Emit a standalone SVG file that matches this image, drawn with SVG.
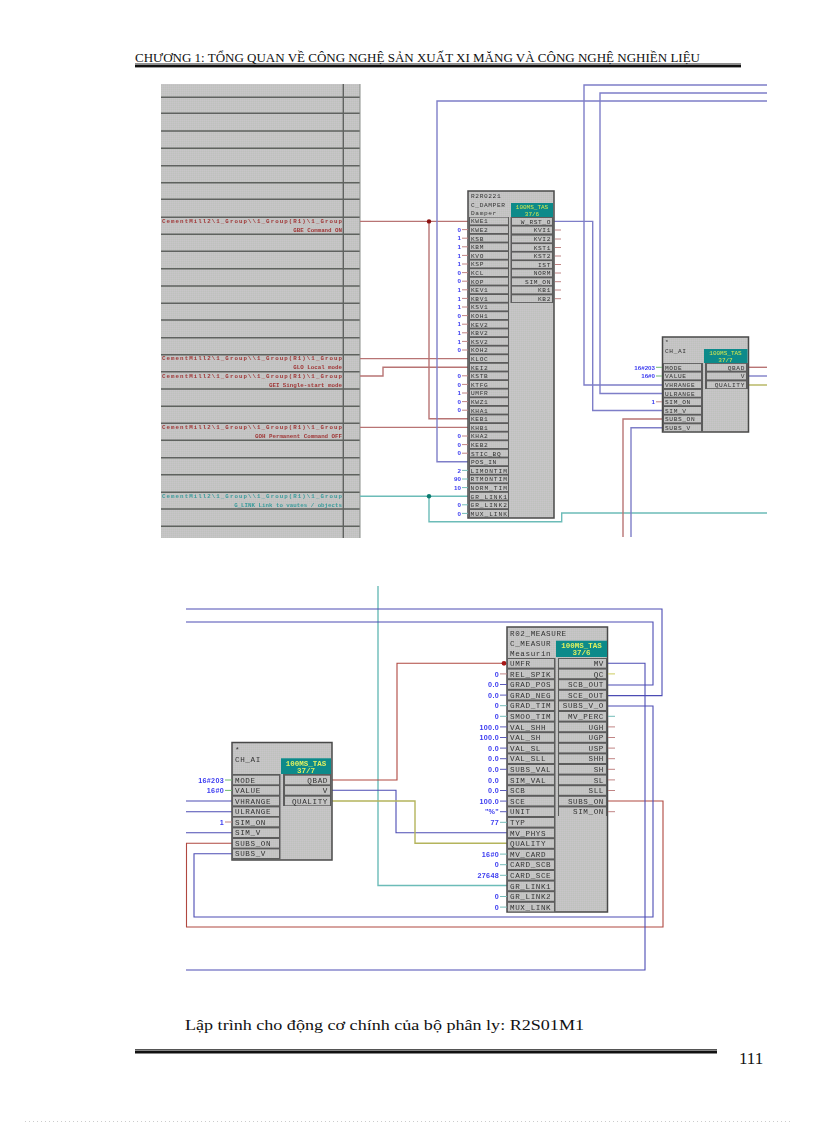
<svg xmlns="http://www.w3.org/2000/svg" width="816" height="1123" viewBox="0 0 816 1123">
<style>
.pg{fill:url(#dith)}
.fr{stroke:#4a4a4a;stroke-width:1.5}
.col{fill:#5c5c5c}
.tl{fill:#0b8a8a}
.soft{filter:url(#soft)}
.tt{font:6px "Liberation Mono",monospace;fill:#d8e850;text-anchor:middle}
.tb{font:7.5px "Liberation Mono",monospace;fill:#e0f060;text-anchor:middle;font-weight:bold}
.a{font:6.2px "Liberation Mono",monospace;fill:#333;letter-spacing:.6px}
.ae{text-anchor:end}
.b{font:7.6px "Liberation Mono",monospace;fill:#333;letter-spacing:.6px}
.va{font:6.2px "Liberation Sans",sans-serif;fill:#3c3cf0;text-anchor:end;font-weight:bold}
.vb{font:7.2px "Liberation Sans",sans-serif;fill:#3c3cf0;text-anchor:end;font-weight:bold;letter-spacing:.3px}
.cr{font:5.8px "Liberation Mono",monospace;fill:#a03838;text-anchor:end;font-weight:bold}
.ct{font:5.8px "Liberation Mono",monospace;fill:#3c9c9c;text-anchor:end;font-weight:bold}
.w{fill:none;stroke-width:1.4}
.wb{stroke:#7e7ec8}.wn{stroke:#4c4cb4;stroke-width:1.1}
.wr{stroke:#b87474}.wd{stroke:#b04840;stroke-width:1.1}
.wt{stroke:#6cbcb8}.wo{stroke:#b4b45c}.wg{stroke:#70b870}
.sp{fill:none;stroke:#c08484;stroke-width:1}
.sb{fill:none;stroke:#5c5cb8;stroke-width:1}
.st{fill:none;stroke:#74bcb8;stroke-width:1}
.sg{fill:none;stroke:#70b870;stroke-width:1}
.sy{fill:none;stroke:#cccc60;stroke-width:1}
.ln{stroke:#5e625e;stroke-width:1.4}
.hd{font-family:"Liberation Serif",serif;fill:#111}
</style>
<defs>
<filter id="soft" x="-5%" y="-5%" width="110%" height="110%"><feGaussianBlur stdDeviation="0.35"/></filter>
<pattern id="dith" width="2" height="2" patternUnits="userSpaceOnUse">
<rect width="2" height="2" fill="#c4c3c4"/><rect width="1" height="1" fill="#c8c6c8"/><rect x="1" y="1" width="1" height="1" fill="#bec2bc"/>
</pattern>
<rect id="p1l" x="470" y="-3.4" width="38" height="6.8" fill="url(#dith)"/>
<rect id="p1r" x="512" y="-3.4" width="40" height="6.8" fill="url(#dith)"/>
<rect id="p2l" x="664" y="-3.4" width="37" height="6.8" fill="url(#dith)"/>
<rect id="p2r" x="707" y="-3.4" width="39" height="6.8" fill="url(#dith)"/>
<rect id="p3l" x="233" y="-4.3" width="46" height="8.6" fill="url(#dith)"/>
<rect id="p3r" x="285" y="-4.3" width="45" height="8.6" fill="url(#dith)"/>
<rect id="p4l" x="508" y="-4.3" width="46" height="8.6" fill="url(#dith)"/>
<rect id="p4r" x="559" y="-4.3" width="47" height="8.6" fill="url(#dith)"/>
</defs>
<rect width="816" height="1123" fill="#fff"/>

<g id="page-header">
<text class="hd" x="135" y="62" font-size="12" textLength="565" lengthAdjust="spacingAndGlyphs">CHƯƠNG 1: TỔNG QUAN VỀ CÔNG NGHỆ SẢN XUẤT XI MĂNG VÀ CÔNG NGHỆ NGHIỀN LIỆU</text>
<rect x="135" y="63.5" width="606" height="1" fill="#222"/>
<rect x="135" y="65" width="606" height="2.4" fill="#111"/>
</g>

<g id="symbol-table" class="soft">
<rect class="pg" x="161" y="84" width="199" height="454"/>
<path class="ln" d="M161 97.3H360M161 113.3H360M161 131H360M161 148.3H360M161 165.7H360M161 182.7H360M161 199.3H360M161 217.3H360M161 234.3H360M161 251.3H360M161 268.7H360M161 286H360M161 303.3H360M161 320H360M161 337.7H360M161 354.7H360M161 371.7H360M161 389H360M161 406.3H360M161 423.3H360M161 440.3H360M161 457.7H360M161 474.7H360M161 492.3H360M161 509H360M161 526.3H360M343.3 84V538"/>
<path d="M360 84V538" stroke="#8a8e8a" stroke-width="1" fill="none"/>
<text class="cr" x="342" y="223" textLength="180">CementMill2\1_Group\\1_Group(R1)\1_Group</text>
<text class="cr" x="342" y="231.5">GBE Command ON</text>
<text class="cr" x="342" y="360" textLength="180">CementMill2\1_Group\\1_Group(R1)\1_Group</text>
<text class="cr" x="342" y="368.5">GLO Local mode</text>
<text class="cr" x="342" y="377.5" textLength="180">CementMill2\1_Group\\1_Group(R1)\1_Group</text>
<text class="cr" x="342" y="386.5">GEI Single-start mode</text>
<text class="cr" x="342" y="429" textLength="180">CementMill2\1_Group\\1_Group(R1)\1_Group</text>
<text class="cr" x="342" y="437.5">GOH Permanent Command OFF</text>
<text class="ct" x="342" y="498" textLength="180">CementMill2\1_Group\\1_Group(R1)\1_Group</text>
<text class="ct" x="342" y="506.5">G_LINK Link to vautes / objects</text>
</g>

<g id="connectors">
<path class="w wr" d="M360 221.4H468M429 221.4V418.8H468M360 358.6H468M360 376H383V367.2H468M360 427.4H468"/>
<path class="w wb" d="M767 101H437V461.8H468M767 85H584V385H662M767 93H600V393.5H662M510 221.4H592.7V410.5H662"/>
<path class="w wt" d="M360 496.2H468M429 496.2V521.7H561.7V513H767"/>
<path class="w wr" d="M767 367.3H749"/>
<path class="w wb" d="M767 376H749"/>
<path class="w wo" d="M767 385H749"/>
<path class="w wr" d="M662 419H623V537"/>
<path class="w wb" d="M662 427.7H631V537"/>
<path class="w wt" d="M378 586V885.5H507"/>
<path class="w wn" d="M186 609H662V695.6H607M186 622H653V685H607M186 801H232M186 811.7H232M186 832.7H232"/>
<path class="w wn" d="M332 790.3H396V832.7H507"/>
<path class="w wo" d="M332 801H415V843.3H507"/>
<path class="w wd" d="M332 780H397V663.3H505"/>
<path class="w wd" d="M232 843.3H186.5V927H663V801H607"/>
<path class="w wn" d="M232 853.7H194V917H653V706H607"/>
<path class="w wn" d="M186 970H645V663.3H607"/>
<circle cx="429" cy="221.4" r="2.2" fill="#8c1010"/>
<circle cx="429" cy="496.2" r="2.2" fill="#0c7c70"/>
<circle cx="504" cy="663.3" r="2.4" fill="#a81818"/>
</g>

<g id="R2R0221" class="soft">
<rect class="pg fr" x="468" y="191" width="86" height="327"/>
<rect class="col" x="469" y="217" width="40" height="300.5"/>
<rect class="col" x="510.5" y="217" width="43" height="86"/>
<rect class="tl" x="511" y="203" width="42" height="14"/>
<text class="tt" x="532" y="209">100MS_TAS</text><text class="tt" x="532" y="215.5">37/6</text>
<text class="a" x="471" y="198">R2R0221</text><text class="a" x="471" y="206.5">C_DAMPER</text><text class="a" x="471" y="215">Damper</text>
<use href="#p1l" y="221"/><use href="#p1l" y="229.6"/><use href="#p1l" y="238.2"/><use href="#p1l" y="246.8"/><use href="#p1l" y="255.4"/><use href="#p1l" y="264"/><use href="#p1l" y="272.6"/><use href="#p1l" y="281.2"/><use href="#p1l" y="289.8"/><use href="#p1l" y="298.4"/><use href="#p1l" y="307"/><use href="#p1l" y="315.6"/><use href="#p1l" y="324.2"/><use href="#p1l" y="332.8"/><use href="#p1l" y="341.4"/><use href="#p1l" y="350"/><use href="#p1l" y="358.6"/><use href="#p1l" y="367.2"/><use href="#p1l" y="375.8"/><use href="#p1l" y="384.4"/><use href="#p1l" y="393"/><use href="#p1l" y="401.6"/><use href="#p1l" y="410.2"/><use href="#p1l" y="418.8"/><use href="#p1l" y="427.4"/><use href="#p1l" y="436"/><use href="#p1l" y="444.6"/><use href="#p1l" y="453.2"/><use href="#p1l" y="461.8"/><use href="#p1l" y="470.4"/><use href="#p1l" y="479"/><use href="#p1l" y="487.6"/><use href="#p1l" y="496.2"/><use href="#p1l" y="504.8"/><use href="#p1l" y="513.4"/>
<use href="#p1r" y="221.4"/><use href="#p1r" y="230"/><use href="#p1r" y="239"/><use href="#p1r" y="247.5"/><use href="#p1r" y="256"/><use href="#p1r" y="264.5"/><use href="#p1r" y="273"/><use href="#p1r" y="281.7"/><use href="#p1r" y="290"/><use href="#p1r" y="298.7"/>
<text class="a" x="471" y="223.3">KWE1</text><text class="a" x="471" y="231.9">KWE2</text><text class="a" x="471" y="240.5">KSB</text><text class="a" x="471" y="249.1">KBM</text><text class="a" x="471" y="257.7">KVO</text><text class="a" x="471" y="266.3">KSP</text><text class="a" x="471" y="274.9">KCL</text><text class="a" x="471" y="283.5">KOP</text><text class="a" x="471" y="292.1">KEV1</text><text class="a" x="471" y="300.7">KBV1</text><text class="a" x="471" y="309.3">KSV1</text><text class="a" x="471" y="317.9">KOH1</text><text class="a" x="471" y="326.5">KEV2</text><text class="a" x="471" y="335.1">KBV2</text><text class="a" x="471" y="343.7">KSV2</text><text class="a" x="471" y="352.3">KOH2</text><text class="a" x="471" y="360.9">KLOC</text><text class="a" x="471" y="369.5">KEI2</text><text class="a" x="471" y="378.1">KSTB</text><text class="a" x="471" y="386.7">KTFG</text><text class="a" x="471" y="395.3">UMFR</text><text class="a" x="471" y="403.9">KWZ1</text><text class="a" x="471" y="412.5">KHA1</text><text class="a" x="471" y="421.1">KEB1</text><text class="a" x="471" y="429.7">KHB1</text><text class="a" x="471" y="438.3">KHA2</text><text class="a" x="471" y="446.9">KEB2</text><text class="a" x="471" y="455.5">STIC_BQ</text><text class="a" x="471" y="464.1">POS_IN</text><text class="a" x="470.5" y="472.7" textLength="37">LIMONTIM</text><text class="a" x="470.5" y="481.3" textLength="37">RTMONTIM</text><text class="a" x="470.5" y="489.9" textLength="37">NORM_TIM</text><text class="a" x="470.5" y="498.5" textLength="37">GR_LINK1</text><text class="a" x="470.5" y="507.1" textLength="37">GR_LINK2</text><text class="a" x="470.5" y="515.7" textLength="37">MUX_LINK</text>
<text class="a ae" x="551" y="223.7">W_RST_O</text><text class="a ae" x="551" y="232.3">KVI1</text><text class="a ae" x="551" y="241.3">KVI2</text><text class="a ae" x="551" y="249.8">KST1</text><text class="a ae" x="551" y="258.3">KST2</text><text class="a ae" x="551" y="266.8">IST</text><text class="a ae" x="551" y="275.3">NORM</text><text class="a ae" x="551" y="284">SIM_ON</text><text class="a ae" x="551" y="292.3">KB1</text><text class="a ae" x="551" y="301">KB2</text>
<text class="va" x="461" y="231.8">0</text><text class="va" x="461" y="240.4">1</text><text class="va" x="461" y="249">1</text><text class="va" x="461" y="257.6">1</text><text class="va" x="461" y="266.2">1</text><text class="va" x="461" y="274.8">0</text><text class="va" x="461" y="283.4">0</text><text class="va" x="461" y="292">1</text><text class="va" x="461" y="300.6">1</text><text class="va" x="461" y="309.2">1</text><text class="va" x="461" y="317.8">0</text><text class="va" x="461" y="326.4">1</text><text class="va" x="461" y="335">1</text><text class="va" x="461" y="343.6">1</text><text class="va" x="461" y="352.2">0</text><text class="va" x="461" y="378">0</text><text class="va" x="461" y="386.6">0</text><text class="va" x="461" y="395.2">1</text><text class="va" x="461" y="403.8">0</text><text class="va" x="461" y="412.4">0</text><text class="va" x="461" y="438.2">0</text><text class="va" x="461" y="446.8">0</text><text class="va" x="461" y="455.4">0</text><text class="va" x="461" y="472.6">2</text><text class="va" x="461" y="481.2">90</text><text class="va" x="461" y="489.8">10</text><text class="va" x="461" y="507">0</text><text class="va" x="461" y="515.6">0</text>
<path class="sp" d="M462 229.6h6M462 238.2h6M462 246.8h6M462 255.4h6M462 264h6M462 272.6h6M462 281.2h6M462 289.8h6M462 298.4h6M462 307h6M462 315.6h6M462 324.2h6M462 332.8h6M462 341.4h6M462 350h6M462 375.8h6M462 384.4h6M462 393h6M462 401.6h6M462 410.2h6M462 436h6M462 444.6h6M462 453.2h6M555 230h6M555 239h6M555 247.5h6M555 256h6M555 264.5h6M555 273h6M555 281.7h6M555 290h6M555 298.7h6"/>
<path class="st" d="M462 470.4h6M462 479h6M462 487.6h6M462 504.8h6M462 513.4h6"/>
</g>

<g id="CH_AI_1" class="soft">
<rect class="pg fr" x="662.5" y="337" width="86" height="95"/>
<rect class="col" x="663" y="363" width="40" height="68.5"/>
<rect class="col" x="705" y="363" width="43" height="26"/>
<rect class="tl" x="704" y="349" width="43.5" height="14"/>
<text class="tt" x="725.5" y="355">100MS_TAS</text><text class="tt" x="725.5" y="361.5">37/7</text>
<text class="a" x="665" y="344">*</text><text class="a" x="665" y="353">CH_AI</text>
<use href="#p2l" y="367.3"/><use href="#p2l" y="376"/><use href="#p2l" y="384.6"/><use href="#p2l" y="393.3"/><use href="#p2l" y="401.8"/><use href="#p2l" y="410.4"/><use href="#p2l" y="419"/><use href="#p2l" y="427.7"/>
<use href="#p2r" y="367.3"/><use href="#p2r" y="376"/><use href="#p2r" y="384.8"/>
<text class="a" x="665" y="369.6">MODE</text><text class="a" x="665" y="378.3">VALUE</text><text class="a" x="665" y="386.9">VHRANGE</text><text class="a" x="665" y="395.6">ULRANGE</text><text class="a" x="665" y="404.1">SIM_ON</text><text class="a" x="665" y="412.7">SIM_V</text><text class="a" x="665" y="421.3">SUBS_ON</text><text class="a" x="665" y="430">SUBS_V</text>
<text class="a ae" x="745" y="369.6">QBAD</text><text class="a ae" x="745" y="378.3">V</text><text class="a ae" x="745" y="387.1">QUALITY</text>
<text class="va" x="655" y="369.6">16#203</text><text class="va" x="655" y="378.3">16#0</text><text class="va" x="655" y="404.1">1</text>
<path class="sg" d="M656 367.3h6M656 376h6"/><path class="sp" d="M656 401.8h6"/>
</g>

<g id="CH_AI_2" class="soft">
<rect class="pg fr" x="232" y="742.5" width="100" height="117.5"/>
<rect class="col" x="232.5" y="774" width="48" height="85.5"/>
<rect class="col" x="283" y="774" width="48" height="32"/>
<rect class="tl" x="281" y="758.3" width="50" height="15.7"/>
<text class="tb" x="306" y="765.5">100MS_TAS</text><text class="tb" x="306" y="772.5">37/7</text>
<text class="b" x="235" y="752">*</text><text class="b" x="235" y="762">CH_AI</text>
<use href="#p3l" y="780"/><use href="#p3l" y="790.4"/><use href="#p3l" y="801"/><use href="#p3l" y="811.7"/><use href="#p3l" y="822"/><use href="#p3l" y="832.7"/><use href="#p3l" y="843.3"/><use href="#p3l" y="853.7"/>
<use href="#p3r" y="780"/><use href="#p3r" y="790.4"/><use href="#p3r" y="801"/>
<text class="b" x="235" y="782.7">MODE</text><text class="b" x="235" y="793.1">VALUE</text><text class="b" x="235" y="803.7">VHRANGE</text><text class="b" x="235" y="814.4">ULRANGE</text><text class="b" x="235" y="824.7">SIM_ON</text><text class="b" x="235" y="835.4">SIM_V</text><text class="b" x="235" y="846">SUBS_ON</text><text class="b" x="235" y="856.4">SUBS_V</text>
<text class="b ae" x="328" y="782.7">QBAD</text><text class="b ae" x="328" y="793.1">V</text><text class="b ae" x="328" y="803.7">QUALITY</text>
<text class="vb" x="224" y="782.7">16#203</text><text class="vb" x="224" y="793.1">16#0</text><text class="vb" x="224" y="824.7">1</text>
<path class="sg" d="M225 780h7M225 790.4h7"/><path class="sp" d="M225 822h7"/>
</g>

<g id="R02_MEASURE" class="soft">
<rect class="pg fr" x="507" y="627" width="100.5" height="285"/>
<rect class="col" x="507.5" y="658" width="48" height="253.5"/>
<rect class="col" x="558" y="658" width="49" height="158"/>
<rect class="tl" x="556" y="640.7" width="51" height="16.3"/>
<text class="tb" x="581.5" y="648">100MS_TAS</text><text class="tb" x="581.5" y="655">37/6</text>
<text class="b" x="510" y="636">R02_MEASURE</text><text class="b" x="510" y="645.5">C_MEASUR</text><text class="b" x="510" y="655.5">Measurin</text>
<use href="#p4l" y="663.3"/><use href="#p4l" y="673.9"/><use href="#p4l" y="684.5"/><use href="#p4l" y="695.1"/><use href="#p4l" y="705.7"/><use href="#p4l" y="716.3"/><use href="#p4l" y="726.9"/><use href="#p4l" y="737.5"/><use href="#p4l" y="748.1"/><use href="#p4l" y="758.7"/><use href="#p4l" y="769.3"/><use href="#p4l" y="779.9"/><use href="#p4l" y="790.5"/><use href="#p4l" y="801.1"/><use href="#p4l" y="811.7"/><use href="#p4l" y="822.3"/><use href="#p4l" y="832.9"/><use href="#p4l" y="843.5"/><use href="#p4l" y="854.1"/><use href="#p4l" y="864.7"/><use href="#p4l" y="875.3"/><use href="#p4l" y="885.9"/><use href="#p4l" y="896.5"/><use href="#p4l" y="907.1"/>
<use href="#p4r" y="663.3"/><use href="#p4r" y="673.9"/><use href="#p4r" y="684.5"/><use href="#p4r" y="695.1"/><use href="#p4r" y="705.7"/><use href="#p4r" y="716.3"/><use href="#p4r" y="726.9"/><use href="#p4r" y="737.5"/><use href="#p4r" y="748.1"/><use href="#p4r" y="758.7"/><use href="#p4r" y="769.3"/><use href="#p4r" y="779.9"/><use href="#p4r" y="790.5"/><use href="#p4r" y="801.1"/><use href="#p4r" y="811.7"/>
<text class="b" x="510" y="666">UMFR</text><text class="b" x="510" y="676.6">REL_SPIK</text><text class="b" x="510" y="687.2">GRAD_POS</text><text class="b" x="510" y="697.8">GRAD_NEG</text><text class="b" x="510" y="708.4">GRAD_TIM</text><text class="b" x="510" y="719">SMOO_TIM</text><text class="b" x="510" y="729.6">VAL_SHH</text><text class="b" x="510" y="740.2">VAL_SH</text><text class="b" x="510" y="750.8">VAL_SL</text><text class="b" x="510" y="761.4">VAL_SLL</text><text class="b" x="510" y="772">SUBS_VAL</text><text class="b" x="510" y="782.6">SIM_VAL</text><text class="b" x="510" y="793.2">SCB</text><text class="b" x="510" y="803.8">SCE</text><text class="b" x="510" y="814.4">UNIT</text><text class="b" x="510" y="825">TYP</text><text class="b" x="510" y="835.6">MV_PHYS</text><text class="b" x="510" y="846.2">QUALITY</text><text class="b" x="510" y="856.8">MV_CARD</text><text class="b" x="510" y="867.4">CARD_SCB</text><text class="b" x="510" y="878">CARD_SCE</text><text class="b" x="510" y="888.6">GR_LINK1</text><text class="b" x="510" y="899.2">GR_LINK2</text><text class="b" x="510" y="909.8">MUX_LINK</text>
<text class="b ae" x="604" y="666">MV</text><text class="b ae" x="604" y="676.6">QC</text><text class="b ae" x="604" y="687.2">SCB_OUT</text><text class="b ae" x="604" y="697.8">SCE_OUT</text><text class="b ae" x="604" y="708.4">SUBS_V_O</text><text class="b ae" x="604" y="719">MV_PERC</text><text class="b ae" x="604" y="729.6">UGH</text><text class="b ae" x="604" y="740.2">UGP</text><text class="b ae" x="604" y="750.8">USP</text><text class="b ae" x="604" y="761.4">SHH</text><text class="b ae" x="604" y="772">SH</text><text class="b ae" x="604" y="782.6">SL</text><text class="b ae" x="604" y="793.2">SLL</text><text class="b ae" x="604" y="803.8">SUBS_ON</text><text class="b ae" x="604" y="814.4">SIM_ON</text>
<text class="vb" x="499" y="676.6">0</text><text class="vb" x="499" y="687.2">0.0</text><text class="vb" x="499" y="697.8">0.0</text><text class="vb" x="499" y="708.4">0</text><text class="vb" x="499" y="719">0</text><text class="vb" x="499" y="729.6">100.0</text><text class="vb" x="499" y="740.2">100.0</text><text class="vb" x="499" y="750.8">0.0</text><text class="vb" x="499" y="761.4">0.0</text><text class="vb" x="499" y="772">0.0</text><text class="vb" x="499" y="782.6">0.0</text><text class="vb" x="499" y="793.2">0.0</text><text class="vb" x="499" y="803.8">100.0</text><text class="vb" x="499" y="814.4">"%"</text><text class="vb" x="499" y="825">77</text><text class="vb" x="499" y="856.8">16#0</text><text class="vb" x="499" y="867.4">0</text><text class="vb" x="499" y="878">27648</text><text class="vb" x="499" y="899.2">0</text><text class="vb" x="499" y="909.8">0</text>
<path class="sp" d="M500 673.9h7"/>
<path class="sb" d="M500 684.5h7M500 695.1h7M500 726.9h7M500 737.5h7M500 748.1h7M500 758.7h7M500 769.3h7M500 790.5h7M500 801.1h7M500 811.7h7"/>
<path class="st" d="M500 705.7h7M500 716.3h7M500 822.3h7M500 854.1h7M500 864.7h7M500 875.3h7M500 896.5h7M500 907.1h7"/>
<path class="sy" d="M608 673.9h7"/>
<path class="st" d="M608 716.3h7"/>
<path class="sp" d="M608 726.9h7M608 737.5h7M608 748.1h7M608 758.7h7M608 769.3h7M608 779.9h7M608 790.5h7M608 811.7h7"/>
</g>

<g id="page-footer">
<text class="hd" x="185" y="1030" font-size="15.5" textLength="399" lengthAdjust="spacingAndGlyphs">Lập trình cho động cơ chính của bộ phân ly: R2S01M1</text>
<rect x="135" y="1049" width="582" height="1" fill="#555"/>
<rect x="135" y="1050.5" width="582" height="3" fill="#111"/>
<text class="hd" x="739" y="1064" font-size="17">111</text>
<path d="M25 1121.5H790" stroke="#ccc" stroke-width="1" stroke-dasharray="1 3" fill="none"/>
</g>
</svg>
